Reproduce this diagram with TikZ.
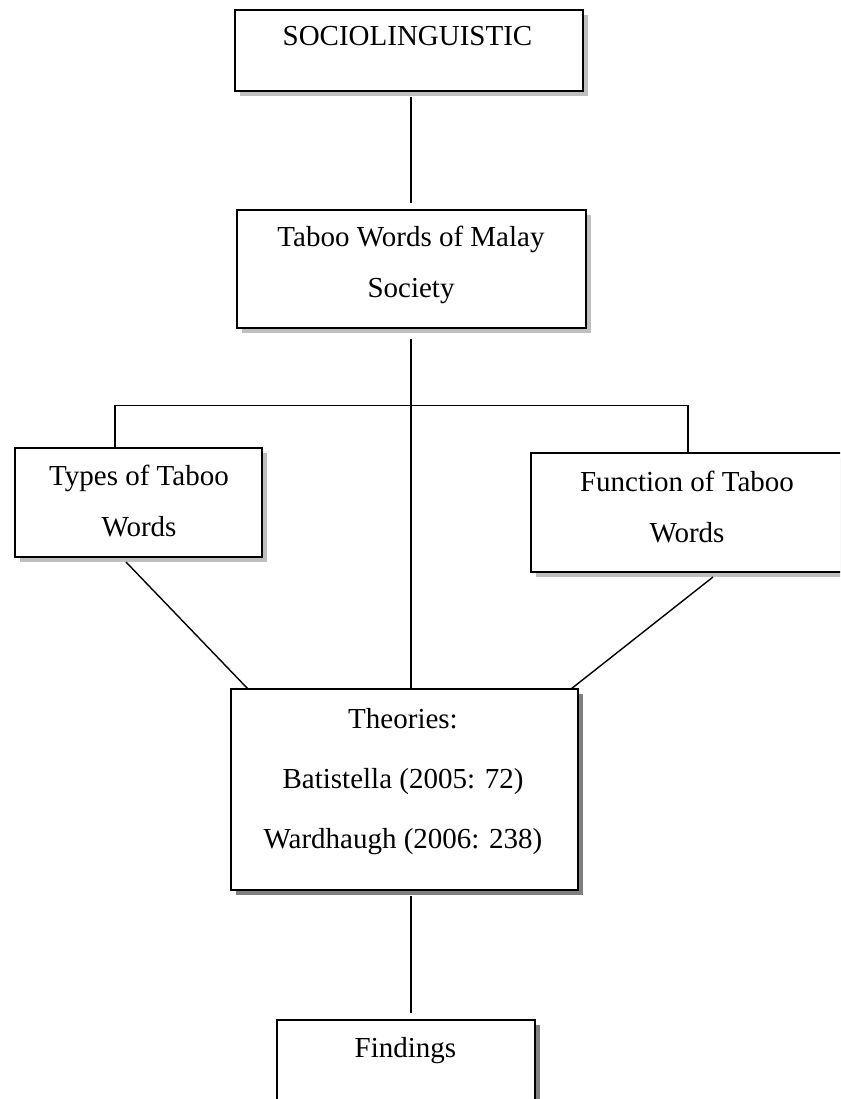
\documentclass[tikz,border=0pt]{standalone}
\usepackage{fontspec}
\setmainfont{Liberation Serif}
\usetikzlibrary{shadows}
\begin{document}
\begin{tikzpicture}[x=1pt,y=-1pt,
  box/.style={draw=black, line width=1.6pt, fill=white, rectangle, inner sep=0pt},
  lightshadow/.style={drop shadow={shadow xshift=5pt, shadow yshift=-5pt, fill=black!25, opacity=1}},
  darkshadow/.style={drop shadow={shadow xshift=5pt, shadow yshift=-5pt, fill=black!50, opacity=1}},
  txt/.style={anchor=base, inner sep=0pt, font=\fontsize{29}{34}\selectfont},
  link/.style={draw=black, line width=1.4pt}]
\useasboundingbox (0,0) rectangle (840,1099);
\clip (0,0) rectangle (840,1099);
\fill[white] (0,0) rectangle (840,1099);
% boxes
\node[box, lightshadow, minimum width=348pt, minimum height=81pt] (socio) at (409,50.5) {};
\node[box, lightshadow, minimum width=349pt, minimum height=118pt] (taboo) at (411.5,269) {};
\node[box, lightshadow, minimum width=247pt, minimum height=109pt] (types) at (138.5,502.5) {};
\node[box, lightshadow, minimum width=314pt, minimum height=119pt] (func) at (688,512.5) {};
\node[box, darkshadow, minimum width=347pt, minimum height=201pt] (theo) at (404.5,789.5) {};
\node[box, darkshadow, minimum width=258pt, minimum height=100pt] (find) at (406,1070) {};
% texts
\node[txt] (t1) at (407.5,46) {SOCIOLINGUISTIC};
\node[txt] (t2a) at (411,247) {Taboo Words of Malay};
\node[txt] (t2b) at (411,297) {Society};
\node[txt] (t3a) at (139,485) {Types of Taboo};
\node[txt] (t3b) at (139,536) {Words};
\node[txt] (t4a) at (687,491) {Function of Taboo};
\node[txt] (t4b) at (687,542) {Words};
\node[txt] (t5a) at (403,728) {Theories:};
\node[txt] (t5b) at (403,788) {Batistella (2005: 72)};
\node[txt] (t5c) at (403,848) {Wardhaugh (2006: 238)};
\node[txt] (t6) at (405.5,1057) {Findings};
% connector coordinates
\coordinate (axis) at (411,0);
\coordinate (hl) at (115,405.5);
\coordinate (hr) at (688,405.5);
\coordinate (d1s) at (126,562);
\coordinate (d1e) at (248,689);
\coordinate (d2s) at (713,577);
\coordinate (d2e) at (571,689);
% connectors
\draw[link] ([yshift=-5pt]socio.south -| axis) -- ([yshift=6pt]taboo.north -| axis);
\draw[link] ([yshift=-10pt]taboo.south -| axis) -- (theo.north -| axis);
\draw[link] (types.north -| hl) -- (hl) -- (hr) -- (func.north -| hr);
\draw[link] (d1s) -- (d1e);
\draw[link] (d2s) -- (d2e);
\draw[link] ([yshift=-5pt]theo.south -| axis) -- ([yshift=6pt]find.north -| axis);
\end{tikzpicture}
\end{document}
